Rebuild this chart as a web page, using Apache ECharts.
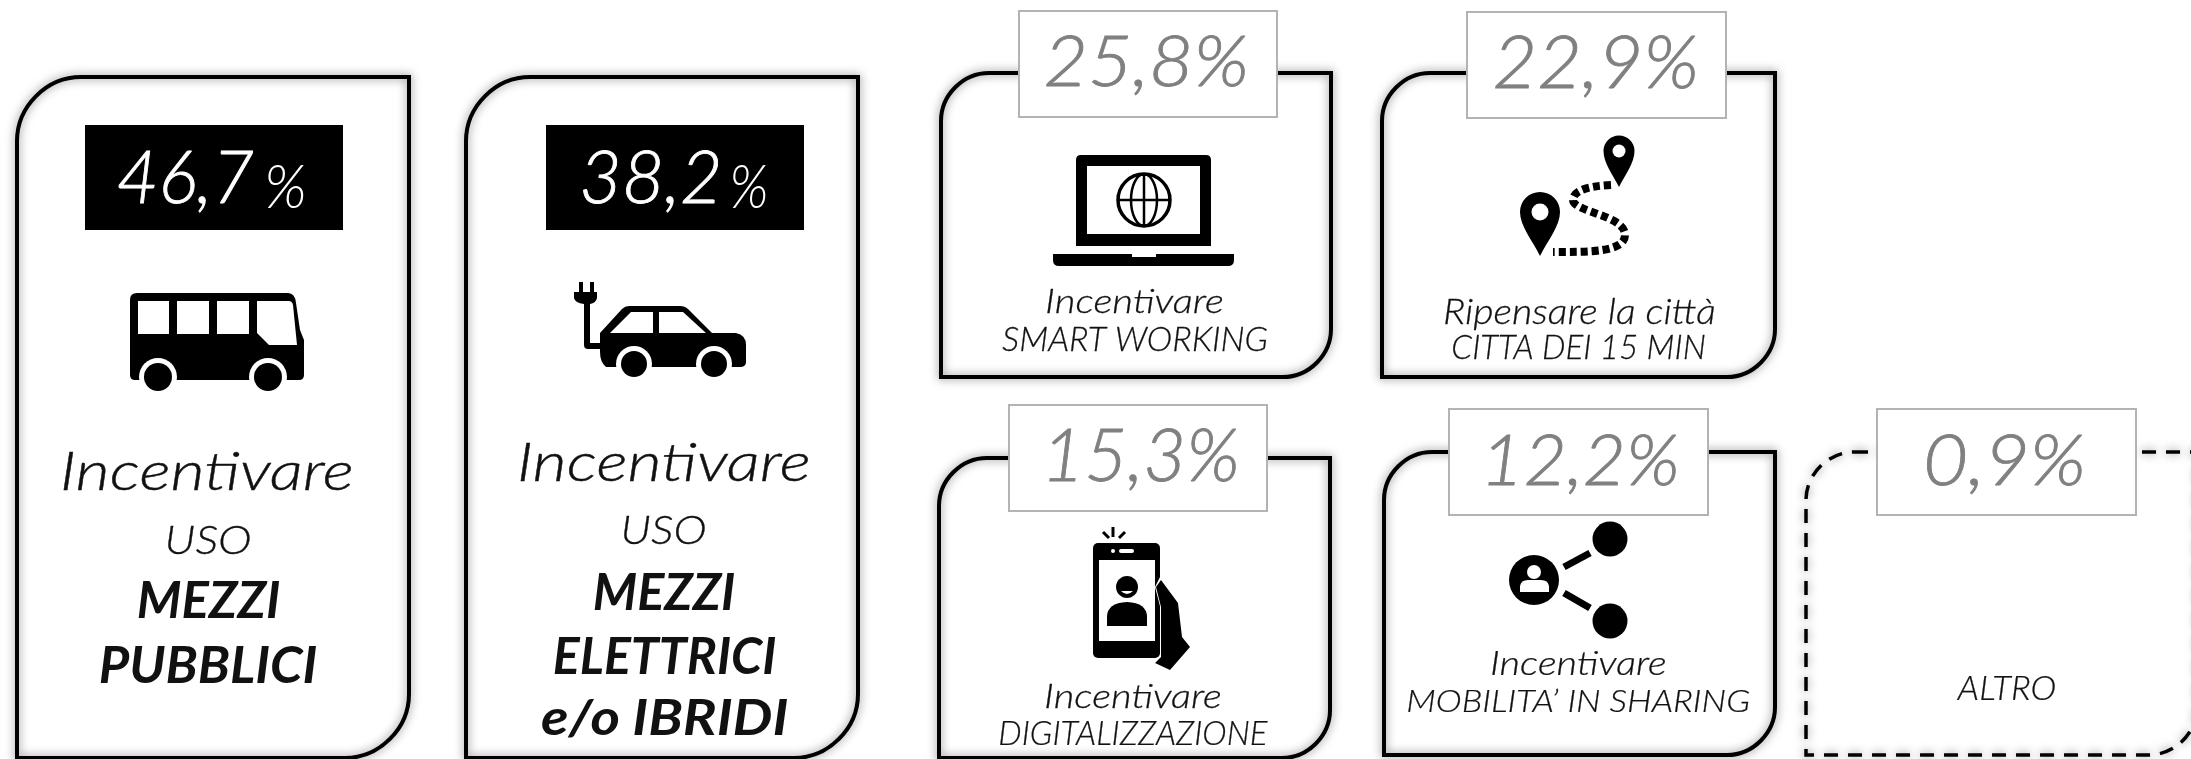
<!DOCTYPE html>
<html>
<head>
<meta charset="utf-8">
<style>
  html, body { margin: 0; padding: 0; background: #fff; }
  #main { width: 2191px; height: 759px; }
</style>
<script src="https://cdn.jsdelivr.net/npm/echarts@6/dist/echarts.min.js"></script>
</head>
<body>
<div id="main"></div>
<script>
// valori
const percentValues = [46.7, 38.2, 25.8, 22.9, 15.3, 12.2, 0.9];
const cardLines = [
  ['Incentivare', 'USO', 'MEZZI', 'PUBBLICI'],
  ['Incentivare', 'USO', 'MEZZI', 'ELETTRICI', 'e/o IBRIDI'],
  ['Incentivare', 'SMART WORKING'],
  ['Ripensare la città', 'CITTA DEI 15 MIN'],
  ['Incentivare', 'DIGITALIZZAZIONE'],
  ['Incentivare', 'MOBILITA\u2019 IN SHARING'],
  ['ALTRO']
];

// geometria delle card: x0, y0, x1, y1, raggio
const cardBoxes = [
  [17, 77, 409, 758, 64],
  [466, 77, 858, 758, 64],
  [941, 73, 1331, 377, 48],
  [1382, 73, 1775, 377, 48],
  [939, 458, 1330, 758, 48],
  [1384, 452, 1775, 755, 48],
  [1806, 452, 2197, 755, 48]
];
// riquadro della percentuale: x0, y0, x1, y1
const valueBoxes = [
  [85, 125, 343, 230],
  [546, 125, 804, 230],
  [1019, 11, 1277, 117],
  [1467, 12, 1726, 118],
  [1009, 405, 1267, 511],
  [1449, 409, 1708, 515],
  [1877, 409, 2136, 515]
];
// ingombro del testo percentuale: x0, y0, x1, y1
const valueTextBoxes = [
  [119, 152, 253, 213],
  [583, 152, 718, 213],
  [1046, 36, 1246, 96],
  [1495, 37, 1696, 98],
  [1049, 430, 1237, 491],
  [1488, 435, 1677, 495],
  [1927, 435, 2083, 495]
];
// il simbolo % piccolo delle prime due card
const percentSignBoxes = [
  [267, 165, 304, 208],
  [732, 165, 766, 208]
];
// ingombro delle righe di testo
const lineBoxes = [
  [[63, 453, 351, 490], [168, 526, 250, 554], [138, 580, 280, 618], [100, 646, 317, 683]],
  [[520, 444, 808, 481], [624, 517, 705, 544], [594, 572, 735, 610], [554, 636, 776, 674], [541, 699, 788, 739]],
  [[1047, 289, 1222, 313], [1002, 327, 1267, 351]],
  [[1445, 298, 1714, 330], [1453, 335, 1705, 359]],
  [[1046, 684, 1220, 708], [1000, 722, 1268, 745]],
  [[1492, 652, 1665, 675], [1408, 688, 1749, 712]],
  [[1957, 677, 2055, 700]]
];

const ctx = document.createElement('canvas').getContext('2d');

// adatta il testo al suo ingombro misurandolo sul canvas
function fitText(str, box, font, fill, strokeWidth) {
  ctx.font = font;
  ctx.textBaseline = 'middle';
  ctx.textAlign = 'left';
  const m = ctx.measureText(str);
  const sx = (box[2] - box[0]) / (m.actualBoundingBoxLeft + m.actualBoundingBoxRight);
  const sy = (box[3] - box[1]) / (m.actualBoundingBoxAscent + m.actualBoundingBoxDescent);
  const style = { text: str, font: font, fill: fill, align: 'left', verticalAlign: 'middle' };
  if (strokeWidth) {
    style.stroke = fill;
    style.lineWidth = strokeWidth;
  }
  return {
    type: 'text',
    x: box[0] + m.actualBoundingBoxLeft * sx,
    y: box[1] + m.actualBoundingBoxAscent * sy,
    scaleX: sx,
    scaleY: sy,
    style: style
  };
}

function cardPath(b) {
  const k = b[4] * 0.54;
  return 'M' + (b[0] + b[4]) + ' ' + b[1] +
    ' L' + b[2] + ' ' + b[1] +
    ' L' + b[2] + ' ' + (b[3] - b[4]) +
    ' C' + b[2] + ' ' + (b[3] - b[4] + k) + ' ' + (b[2] - b[4] + k) + ' ' + b[3] + ' ' + (b[2] - b[4]) + ' ' + b[3] +
    ' L' + b[0] + ' ' + b[3] +
    ' L' + b[0] + ' ' + (b[1] + b[4]) +
    ' C' + b[0] + ' ' + (b[1] + b[4] - k) + ' ' + (b[0] + b[4] - k) + ' ' + b[1] + ' ' + (b[0] + b[4]) + ' ' + b[1] + ' Z';
}

const path = (d, fill) => ({ type: 'path', shape: { pathData: d }, style: { fill: fill || '#000' } });
const circle = (cx, cy, r, fill) => ({ type: 'circle', shape: { cx: cx, cy: cy, r: r }, style: { fill: fill || '#000' } });
const line = (x1, y1, x2, y2, w, cap) => ({
  type: 'line', shape: { x1: x1, y1: y1, x2: x2, y2: y2 },
  style: { stroke: '#000', lineWidth: w, lineCap: cap || 'butt' }
});
const rect = (x, y, w, h, fill, r) => ({
  type: 'rect', shape: { x: x, y: y, width: w, height: h, r: r || 0 }, style: { fill: fill || '#000' }
});

// icone
function busIcon() {
  return [
    path('M130 300 Q130 293 137 293 L288 293 Q295 293 296 303 L300 330 L304 340 L304 375 Q304 380 299 380 L135 380 Q130 380 130 375 Z'),
    rect(138, 301, 31, 33, '#fff'),
    rect(177, 301, 32, 33, '#fff'),
    rect(217, 301, 32, 33, '#fff'),
    path('M257 301 L289 301 Q292 301 293 305 L297 345 L269 345 L257 333 Z', '#fff'),
    circle(158, 377, 19, '#fff'),
    circle(268, 377, 19, '#fff'),
    circle(158, 377, 14),
    circle(268, 377, 14)
  ];
}

function carIcon() {
  return [
    path('M579 282 L583 282 L583 292 L590 292 L590 282 L594 282 L594 292 L597 292 L597 298 Q596 303 590 304 L590 343 L603 343 L603 349 L588 349 Q584 349 584 345 L584 304 Q575 303 574 298 L574 292 L579 292 Z'),
    path('M600 333 L622 309 Q625 306 629 306 L680 306 Q685 306 688 309 L712 333 L736 333 Q746 335 746 345 L746 362 Q746 367 740 367 L606 367 Q600 362 600 352 Z'),
    path('M610 333 L631 312 L653 312 L653 333 Z', '#fff'),
    path('M659 312 L683 312 L706 333 L659 333 Z', '#fff'),
    circle(634, 364, 18, '#fff'),
    circle(714, 364, 18, '#fff'),
    circle(634, 364, 13),
    circle(714, 364, 13)
  ];
}

function laptopIcon() {
  return [
    path('M1076 160 Q1076 155 1081 155 L1206 155 Q1211 155 1211 160 L1211 246 L1076 246 Z'),
    rect(1087, 166, 113, 68, '#fff'),
    { type: 'circle', shape: { cx: 1144, cy: 200, r: 26 }, style: { fill: '#fff', stroke: '#000', lineWidth: 3.5 } },
    { type: 'ellipse', shape: { cx: 1144, cy: 200, rx: 13, ry: 26 }, style: { fill: 'none', stroke: '#000', lineWidth: 2.5 } },
    line(1118, 200, 1170, 200, 2.5),
    line(1144, 174, 1144, 226, 2.5),
    path('M1053 254 L1132 254 L1132 257 L1156 257 L1156 254 L1234 254 L1234 260 Q1234 266 1228 266 L1059 266 Q1053 266 1053 260 Z')
  ];
}

function mapIcon() {
  return [
    {
      type: 'path',
      shape: { pathData: 'M1611 185 C1590 186 1573 190 1573 200 C1573 212 1625 215 1625 235 C1625 252 1590 252 1553 252' },
      style: { fill: 'none', stroke: '#000', lineWidth: 8, lineDash: [7, 4] }
    },
    path('M1540 256 C1532 240 1520 226 1520 212 A20 20 0 1 1 1560 212 C1560 226 1548 240 1540 256 Z'),
    circle(1540, 212, 8.5, '#fff'),
    path('M1619 187 C1613 175 1603.5 163 1603.5 151 A15.5 15.5 0 1 1 1634.5 151 C1634.5 163 1625 175 1619 187 Z'),
    circle(1619, 151, 6.5, '#fff')
  ];
}

function phoneIcon() {
  return [
    line(1113, 527, 1113, 537, 3),
    line(1103, 532, 1109, 538, 3),
    line(1125, 532, 1119, 538, 3),
    rect(1093, 543, 67, 115, '#000', 5),
    rect(1099, 560, 56, 81, '#fff'),
    rect(1119, 549, 15, 4, '#fff', 2),
    circle(1113, 551, 2, '#fff'),
    { type: 'ellipse', shape: { cx: 1127, cy: 587, rx: 11, ry: 11 }, style: { fill: '#000' } },
    path('M1121 591 Q1127 597 1133 591 Z', '#fff'),
    path('M1107 626 L1107 617 Q1107 603 1127 602 Q1147 603 1147 617 L1147 626 Z'),
    path('M1161 575 L1155 587 L1161 610 L1161 655 L1153 662 L1170 674 L1192 647 L1183 637 L1178 602 L1166 579 Z', '#fff'),
    path('M1156 587 L1161 580 L1178 603 L1182 637 L1190 647 L1170 670 L1155 663 L1161 657 L1161 607 Z')
  ];
}

function shareIcon() {
  return [
    line(1564, 567, 1590, 553, 7),
    line(1564, 593, 1590, 608, 7),
    circle(1534, 580, 25),
    circle(1610, 539, 17.5),
    circle(1610, 621, 17.5),
    circle(1534, 572, 7, '#fff'),
    path('M1520 592 L1520 586 Q1521 580 1528 580 L1541 580 Q1548 580 1549 586 L1549 592 Z', '#fff')
  ];
}

const cardIcons = [busIcon, carIcon, laptopIcon, mapIcon, phoneIcon, shareIcon, () => []];

function renderCard(params, api) {
  const i = params.dataIndex;
  const value = api.value(0);
  const filled = i < 2;
  const v = valueBoxes[i];
  const children = [{
    type: 'path',
    shape: { pathData: cardPath(cardBoxes[i]) },
    style: {
      fill: 'none',
      stroke: '#000',
      lineWidth: i === 6 ? 3.5 : 4,
      lineDash: i === 6 ? [14, 10] : null,
      shadowBlur: 10,
      shadowColor: 'rgba(0,0,0,0.5)'
    }
  }, {
    type: 'rect',
    shape: { x: v[0], y: v[1], width: v[2] - v[0], height: v[3] - v[1] },
    style: filled ? { fill: '#000' } : { fill: '#fff', stroke: '#b3b3b3', lineWidth: 2 }
  }];

  const label = value.toFixed(1).replace('.', ',');
  if (filled) {
    children.push(fitText(label, valueTextBoxes[i], 'italic 300 60px Lato', '#fff', 0.7));
    children.push(fitText('%', percentSignBoxes[i], 'italic 300 40px Lato', '#fff'));
  } else {
    children.push(fitText(label + '%', valueTextBoxes[i], 'italic 300 60px Lato', '#808080', 0.7));
  }

  cardLines[i].forEach((str, j) => {
    const bold = str === 'MEZZI' || str === 'PUBBLICI' || str === 'ELETTRICI' || str === 'e/o IBRIDI';
    const font = bold ? 'italic 700 40px Lato' : 'italic 300 40px Lato';
    children.push(fitText(str, lineBoxes[i][j], font, '#111', bold ? 0 : 0.3));
  });

  return { type: 'group', children: children.concat(cardIcons[i]()) };
}

const chart = echarts.init(document.getElementById('main'), null, { renderer: 'canvas' });
chart.setOption({
  animation: false,
  backgroundColor: '#fff',
  series: [{
    type: 'custom',
    coordinateSystem: 'none',
    silent: true,
    renderItem: renderCard,
    data: percentValues.map(v => [v])
  }]
});
</script>
</body>
</html>
